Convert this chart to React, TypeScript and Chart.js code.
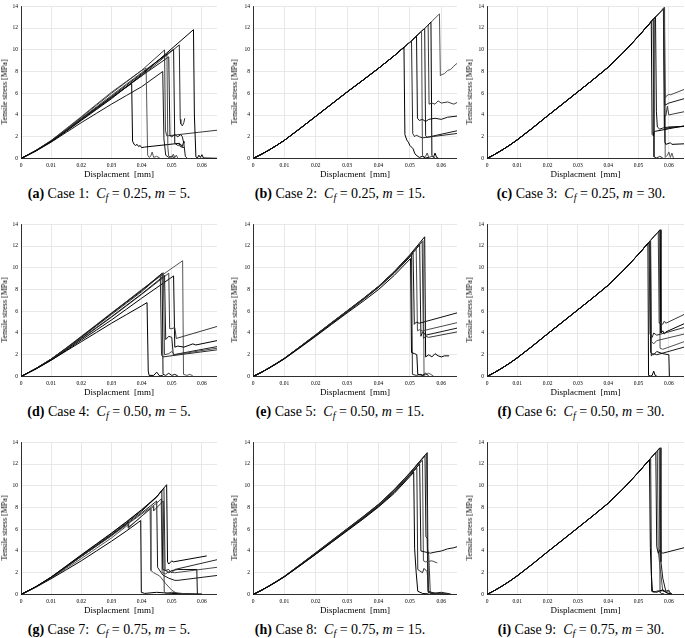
import React, { useEffect, useRef } from "react";
import { Chart, registerables } from "chart.js";

Chart.register(...registerables);

type Pt = [number, number];

const X_TICKS = [0, 0.01, 0.02, 0.03, 0.04, 0.05, 0.06];
const Y_TICKS = [0, 2, 4, 6, 8, 10, 12, 14];
const X_MAX = 0.065;
const Y_MAX = 14;

const PANEL_LETTERS = ["a", "b", "c", "d", "e", "f", "g", "h", "i"];
const CASE_NUMBERS = ["1", "2", "3", "4", "5", "6", "7", "8", "9"];
const CASE_CF = ["0.25", "0.25", "0.25", "0.50", "0.50", "0.50", "0.75", "0.75", "0.75"];
const CASE_M = ["5", "15", "30", "5", "15", "30", "5", "15", "30"];
const X_TITLE = "Displacment  [mm]";
const Y_TITLE = "Tensile stress [MPa]";

const CASE1: Pt[][] = [
  [[0,0],[0.005,0.7],[0.01,1.55],[0.015,2.5],[0.02,3.5],[0.025,4.5],[0.03,5.5],[0.035,6.6],[0.04,7.7],[0.045,8.9],[0.0572,11.85],[0.0575,4.0],[0.058,0.15],[0.0585,0.05],[0.059,0.3],[0.0595,0.1],[0.06,0.35],[0.0605,0.05],[0.065,0.02]],
  [[0,0],[0.005,0.72],[0.01,1.6],[0.015,2.55],[0.02,3.55],[0.025,4.57],[0.03,5.6],[0.035,6.6],[0.04,7.6],[0.045,8.75],[0.0525,10.45],[0.0528,3.6],[0.053,3.2],[0.0535,3.0],[0.054,3.3],[0.0543,3.7]],
  [[0,0],[0.005,0.72],[0.01,1.6],[0.015,2.58],[0.02,3.6],[0.025,4.65],[0.03,5.7],[0.035,6.75],[0.04,7.8],[0.045,8.9],[0.0506,10.05],[0.051,1.4],[0.052,1.2],[0.053,1.3],[0.0535,1.1],[0.054,1.6],[0.0542,1.4]],
  [[0,0],[0.005,0.73],[0.01,1.6],[0.015,2.63],[0.02,3.7],[0.025,4.75],[0.03,5.8],[0.035,6.85],[0.04,7.9],[0.0484,9.6],[0.0487,1.0],[0.049,0.2],[0.05,0.1],[0.0505,0.4],[0.051,0.1],[0.0515,0.3],[0.052,0.05]],
  [[0,0],[0.005,0.72],[0.01,1.6],[0.015,2.58],[0.02,3.6],[0.025,4.6],[0.03,5.6],[0.035,6.6],[0.04,7.6],[0.049,9.35],[0.0494,2.1],[0.05,2.0],[0.051,2.2],[0.052,2.0],[0.053,2.2],[0.0535,2.0],[0.054,1.4],[0.0545,0.2],[0.055,0.05]],
  [[0,0],[0.005,0.75],[0.01,1.65],[0.015,2.7],[0.02,3.8],[0.025,4.9],[0.03,6.0],[0.035,7.05],[0.04,8.1],[0.0476,9.98],[0.0479,2.6],[0.0483,2.1],[0.0488,2.09],[0.065,2.6]],
  [[0,0],[0.005,0.74],[0.01,1.6],[0.015,2.65],[0.02,3.7],[0.025,4.65],[0.03,5.6],[0.0367,6.9],[0.037,1.6],[0.0375,1.3],[0.038,1.2],[0.0385,1.3],[0.039,1.1],[0.0395,1.2],[0.04,1.0],[0.041,1.05],[0.0526,1.4],[0.0528,1.1],[0.054,1.0]],
  [[0,0],[0.005,0.76],[0.01,1.65],[0.015,2.75],[0.02,3.85],[0.025,4.98],[0.03,6.1],[0.035,7.1],[0.04,8.1],[0.0415,8.3],[0.042,0.3],[0.0425,0.1],[0.043,0.2],[0.0435,0.6],[0.044,0.1],[0.045,0.2],[0.046,0.05]],
  [[0,0],[0.005,0.7],[0.01,1.5],[0.015,2.4],[0.02,3.3],[0.025,4.15],[0.03,5.0],[0.035,5.8],[0.04,6.6],[0.047,8.0],[0.0474,1.8],[0.048,0.3],[0.049,0.1],[0.05,0.2],[0.051,0.05]],
];

const CASE2: Pt[][] = [
  [[0,0],[0.0025,0.36],[0.005,0.76],[0.0075,1.2],[0.01,1.67],[0.015,2.76],[0.02,3.88],[0.025,5.0],[0.03,6.12],[0.035,7.2],[0.04,8.3],[0.045,9.45],[0.0481,10.25],[0.0484,2.2],[0.049,1.7],[0.0495,1.5],[0.05,1.2],[0.051,0.9],[0.0515,0.5],[0.052,0.3],[0.053,0.1],[0.054,0.2],[0.055,0.05],[0.056,0.1]],
  [[0,0],[0.0025,0.36],[0.005,0.76],[0.0075,1.2],[0.01,1.67],[0.015,2.76],[0.02,3.88],[0.025,5.0],[0.03,6.12],[0.035,7.2],[0.04,8.3],[0.045,9.45],[0.05,10.7],[0.0505,10.83],[0.0509,2.3],[0.0515,2.0],[0.052,2.15],[0.053,2.0],[0.054,1.9],[0.065,2.3]],
  [[0,0],[0.0025,0.36],[0.005,0.76],[0.0075,1.2],[0.01,1.67],[0.015,2.76],[0.02,3.88],[0.025,5.0],[0.03,6.12],[0.035,7.2],[0.04,8.3],[0.045,9.45],[0.05,10.7],[0.0521,11.27],[0.0524,3.7],[0.053,3.5],[0.054,3.6],[0.055,3.4],[0.056,3.6],[0.058,3.7],[0.06,3.6],[0.062,3.8],[0.065,3.9]],
  [[0,0],[0.0025,0.36],[0.005,0.76],[0.0075,1.2],[0.01,1.67],[0.015,2.76],[0.02,3.88],[0.025,5.0],[0.03,6.12],[0.035,7.2],[0.04,8.3],[0.045,9.45],[0.05,10.7],[0.0537,11.7],[0.054,0.3],[0.0545,0.1],[0.055,0.2],[0.0555,0.5],[0.056,0.1],[0.057,0.2],[0.058,0.05]],
  [[0,0],[0.0025,0.36],[0.005,0.76],[0.0075,1.2],[0.01,1.67],[0.015,2.76],[0.02,3.88],[0.025,5.0],[0.03,6.12],[0.035,7.2],[0.04,8.3],[0.045,9.45],[0.05,10.7],[0.0547,11.97],[0.055,2.1],[0.0555,1.95],[0.065,2.55]],
  [[0,0],[0.0025,0.36],[0.005,0.76],[0.0075,1.2],[0.01,1.67],[0.015,2.76],[0.02,3.88],[0.025,5.0],[0.03,6.12],[0.035,7.2],[0.04,8.3],[0.045,9.45],[0.05,10.7],[0.055,12.05],[0.0558,12.28],[0.0561,5.0],[0.057,5.1],[0.058,5.0],[0.059,5.3],[0.06,5.1],[0.062,5.2],[0.064,5.0],[0.065,5.15]],
  [[0,0],[0.0025,0.36],[0.005,0.76],[0.0075,1.2],[0.01,1.67],[0.015,2.76],[0.02,3.88],[0.025,5.0],[0.03,6.12],[0.035,7.2],[0.04,8.3],[0.045,9.45],[0.05,10.7],[0.055,12.05],[0.0567,12.55],[0.057,0.3],[0.0575,0.1],[0.058,0.5],[0.0585,0.1],[0.059,0.05]],
  [[0,0],[0.0025,0.36],[0.005,0.76],[0.0075,1.2],[0.01,1.67],[0.015,2.76],[0.02,3.88],[0.025,5.0],[0.03,6.12],[0.035,7.2],[0.04,8.3],[0.045,9.45],[0.05,10.7],[0.055,12.05],[0.0594,13.3],[0.0597,7.6],[0.06,7.7],[0.061,7.8],[0.062,8.1],[0.063,8.2],[0.064,8.5],[0.065,8.75]],
];

const CASE3: Pt[][] = [
  [[0,0],[0.0025,0.37],[0.005,0.78],[0.0075,1.23],[0.01,1.72],[0.015,2.8],[0.02,3.93],[0.025,5.03],[0.03,6.14],[0.035,7.25],[0.04,8.4],[0.045,9.75],[0.05,11.25],[0.0542,12.6],[0.0545,2.2],[0.0548,2.1],[0.055,2.4],[0.0555,2.5],[0.065,3.0]],
  [[0,0],[0.0025,0.37],[0.005,0.78],[0.0075,1.23],[0.01,1.72],[0.015,2.8],[0.02,3.93],[0.025,5.03],[0.03,6.14],[0.035,7.25],[0.04,8.4],[0.045,9.75],[0.05,11.25],[0.0548,12.8],[0.0551,0.15],[0.056,0.05],[0.057,0.2],[0.058,0.05]],
  [[0,0],[0.0025,0.37],[0.005,0.78],[0.0075,1.23],[0.01,1.72],[0.015,2.8],[0.02,3.93],[0.025,5.03],[0.03,6.14],[0.035,7.25],[0.04,8.4],[0.045,9.75],[0.05,11.25],[0.055,12.85],[0.0556,13.0],[0.0559,4.3],[0.0562,2.9],[0.057,2.7],[0.058,2.8],[0.06,2.9],[0.065,2.95]],
  [[0,0],[0.0025,0.37],[0.005,0.78],[0.0075,1.23],[0.01,1.72],[0.015,2.8],[0.02,3.93],[0.025,5.03],[0.03,6.14],[0.035,7.25],[0.04,8.4],[0.045,9.75],[0.05,11.25],[0.055,12.85],[0.0585,13.9],[0.0588,5.6],[0.059,5.7],[0.06,5.9],[0.0605,5.85],[0.065,6.35]],
  [[0,0],[0.0025,0.37],[0.005,0.78],[0.0075,1.23],[0.01,1.72],[0.015,2.8],[0.02,3.93],[0.025,5.03],[0.03,6.14],[0.035,7.25],[0.04,8.4],[0.045,9.75],[0.05,11.25],[0.055,12.85],[0.0584,13.85],[0.0587,4.9],[0.06,5.1],[0.065,5.5]],
  [[0,0],[0.0025,0.37],[0.005,0.78],[0.0075,1.23],[0.01,1.72],[0.015,2.8],[0.02,3.93],[0.025,5.03],[0.03,6.14],[0.035,7.25],[0.04,8.4],[0.045,9.75],[0.05,11.25],[0.055,12.85],[0.0583,13.8],[0.0586,4.0],[0.059,3.9],[0.0595,4.8],[0.06,4.0],[0.0615,4.1],[0.065,4.3]],
  [[0,0],[0.0025,0.37],[0.005,0.78],[0.0075,1.23],[0.01,1.72],[0.015,2.8],[0.02,3.93],[0.025,5.03],[0.03,6.14],[0.035,7.25],[0.04,8.4],[0.045,9.75],[0.05,11.25],[0.055,12.85],[0.0584,13.85],[0.0587,1.5],[0.059,1.3],[0.0605,1.45],[0.061,1.3],[0.065,1.35]],
  [[0,0],[0.0025,0.37],[0.005,0.78],[0.0075,1.23],[0.01,1.72],[0.015,2.8],[0.02,3.93],[0.025,5.03],[0.03,6.14],[0.035,7.25],[0.04,8.4],[0.045,9.75],[0.05,11.25],[0.055,12.85],[0.0586,13.92],[0.0588,0.1],[0.0595,0.3],[0.06,0.6],[0.0605,0.1],[0.061,0.5],[0.0615,0.05]],
  [[0,0],[0.0025,0.37],[0.005,0.78],[0.0075,1.23],[0.01,1.72],[0.015,2.8],[0.02,3.93],[0.025,5.03],[0.03,6.14],[0.035,7.25],[0.04,8.4],[0.045,9.75],[0.05,11.25],[0.055,12.85],[0.0582,13.75],[0.0585,2.9],[0.059,2.7],[0.06,2.85],[0.065,2.95]],
];

const CASE4: Pt[][] = [
  [[0,0],[0.005,0.7],[0.01,1.5],[0.015,2.35],[0.02,3.2],[0.025,4.05],[0.03,4.9],[0.035,5.7],[0.04,6.5],[0.0418,6.8],[0.0422,0.5],[0.0425,0.1],[0.044,0.1],[0.045,0.4],[0.046,0.05],[0.047,0.1]],
  [[0,0],[0.005,0.74],[0.01,1.6],[0.015,2.58],[0.02,3.6],[0.025,4.65],[0.03,5.7],[0.035,6.75],[0.04,7.8],[0.0462,9.3],[0.0466,2.0],[0.047,1.8],[0.065,2.45]],
  [[0,0],[0.005,0.74],[0.01,1.6],[0.015,2.6],[0.02,3.65],[0.025,4.72],[0.03,5.8],[0.035,6.85],[0.04,7.9],[0.0468,9.5],[0.0471,0.2],[0.048,0.1],[0.049,0.3],[0.05,0.1],[0.051,0.2],[0.052,0.05]],
  [[0,0],[0.005,0.75],[0.01,1.6],[0.015,2.63],[0.02,3.7],[0.025,4.77],[0.03,5.85],[0.035,6.9],[0.04,7.95],[0.0472,9.55],[0.0476,2.0],[0.049,2.1],[0.05,2.3],[0.051,2.0],[0.065,2.6]],
  [[0,0],[0.005,0.72],[0.01,1.55],[0.015,2.5],[0.02,3.5],[0.025,4.5],[0.03,5.5],[0.035,6.55],[0.04,7.6],[0.0476,9.3],[0.048,3.4],[0.049,3.7],[0.05,3.6],[0.0505,2.0],[0.065,2.75]],
  [[0,0],[0.005,0.72],[0.01,1.55],[0.015,2.48],[0.02,3.45],[0.025,4.45],[0.03,5.45],[0.035,6.5],[0.04,7.55],[0.049,9.5],[0.0493,4.4],[0.05,4.4],[0.051,4.5],[0.0515,3.5],[0.065,4.6]],
  [[0,0],[0.005,0.7],[0.01,1.5],[0.015,2.4],[0.02,3.35],[0.025,4.27],[0.03,5.2],[0.035,6.2],[0.04,7.2],[0.0506,9.25],[0.051,2.7],[0.052,2.8],[0.054,2.7],[0.056,2.9],[0.057,3.0],[0.058,2.9],[0.065,3.3]],
  [[0,0],[0.005,0.74],[0.01,1.6],[0.015,2.58],[0.02,3.6],[0.025,4.7],[0.03,5.8],[0.035,6.9],[0.04,8.0],[0.0536,10.65],[0.0539,0.2],[0.055,0.1],[0.056,0.2],[0.057,0.05]],
];

const CASE5: Pt[][] = [
  [[0,0],[0.0025,0.35],[0.005,0.75],[0.0075,1.17],[0.01,1.62],[0.015,2.65],[0.02,3.7],[0.025,4.78],[0.03,5.85],[0.035,6.9],[0.04,8.0],[0.045,9.3],[0.0502,10.85],[0.0505,2.2],[0.0515,2.1],[0.0522,2.0],[0.0525,0.2],[0.054,0.1],[0.055,0.3],[0.056,0.05]],
  [[0,0],[0.0025,0.36],[0.005,0.76],[0.0075,1.19],[0.01,1.65],[0.015,2.7],[0.02,3.78],[0.025,4.87],[0.03,5.95],[0.035,7.05],[0.04,8.2],[0.045,9.55],[0.0505,11.3],[0.0508,0.2],[0.052,0.1],[0.0535,0.2],[0.0545,0.05]],
  [[0,0],[0.0025,0.36],[0.005,0.76],[0.0075,1.19],[0.01,1.65],[0.015,2.7],[0.02,3.78],[0.025,4.87],[0.03,5.95],[0.035,7.05],[0.04,8.2],[0.045,9.5],[0.05,11.0],[0.051,11.35],[0.0514,4.8],[0.052,5.0],[0.053,4.9],[0.065,5.85]],
  [[0,0],[0.0025,0.36],[0.005,0.77],[0.0075,1.2],[0.01,1.66],[0.015,2.72],[0.02,3.8],[0.025,4.9],[0.03,6.0],[0.035,7.1],[0.04,8.25],[0.045,9.55],[0.05,11.05],[0.052,11.7],[0.0524,4.2],[0.053,4.3],[0.054,4.2],[0.065,4.95]],
  [[0,0],[0.0025,0.36],[0.005,0.77],[0.0075,1.2],[0.01,1.66],[0.015,2.72],[0.02,3.8],[0.025,4.9],[0.03,6.0],[0.035,7.1],[0.04,8.25],[0.045,9.6],[0.05,11.1],[0.0531,12.1],[0.0535,3.7],[0.054,4.1],[0.0545,4.0],[0.055,3.8],[0.065,4.45]],
  [[0,0],[0.0025,0.36],[0.005,0.77],[0.0075,1.21],[0.01,1.67],[0.015,2.74],[0.02,3.82],[0.025,4.93],[0.03,6.02],[0.035,7.12],[0.04,8.27],[0.045,9.62],[0.05,11.15],[0.0539,12.4],[0.0543,3.5],[0.055,3.7],[0.056,3.6],[0.065,4.1]],
  [[0,0],[0.0025,0.36],[0.005,0.77],[0.0075,1.21],[0.01,1.68],[0.015,2.75],[0.02,3.85],[0.025,4.95],[0.03,6.05],[0.035,7.15],[0.04,8.3],[0.045,9.65],[0.05,11.2],[0.0547,12.85],[0.055,1.8],[0.056,2.0],[0.057,1.8],[0.058,2.1],[0.059,1.9],[0.06,1.8],[0.061,1.9],[0.0625,1.9]],
  [[0,0],[0.0025,0.36],[0.005,0.77],[0.0075,1.21],[0.01,1.67],[0.015,2.74],[0.02,3.82],[0.025,4.93],[0.03,6.02],[0.035,7.12],[0.04,8.27],[0.045,9.62],[0.05,11.15],[0.0542,12.5],[0.0545,0.1],[0.056,0.3],[0.0575,0.05]],
];

const CASE6: Pt[][] = [
  [[0,0],[0.0025,0.37],[0.005,0.78],[0.0075,1.23],[0.01,1.72],[0.015,2.8],[0.02,3.93],[0.025,5.03],[0.03,6.14],[0.035,7.25],[0.04,8.4],[0.045,9.75],[0.05,11.25],[0.0531,12.24],[0.0533,0.1],[0.054,0.05],[0.0545,0.1],[0.055,0.5],[0.0555,0.1],[0.056,0.05]],
  [[0,0],[0.0025,0.37],[0.005,0.78],[0.0075,1.23],[0.01,1.72],[0.015,2.8],[0.02,3.93],[0.025,5.03],[0.03,6.14],[0.035,7.25],[0.04,8.4],[0.045,9.75],[0.05,11.25],[0.0535,12.37],[0.0538,3.9],[0.0545,3.6],[0.055,4.0],[0.056,3.8],[0.065,4.5]],
  [[0,0],[0.0025,0.37],[0.005,0.78],[0.0075,1.23],[0.01,1.72],[0.015,2.8],[0.02,3.93],[0.025,5.03],[0.03,6.14],[0.035,7.25],[0.04,8.4],[0.045,9.75],[0.05,11.25],[0.0537,12.43],[0.054,2.2],[0.055,2.0],[0.056,2.3],[0.058,2.1],[0.06,2.0],[0.0602,0.0]],
  [[0,0],[0.0025,0.37],[0.005,0.78],[0.0075,1.23],[0.01,1.72],[0.015,2.8],[0.02,3.93],[0.025,5.03],[0.03,6.14],[0.035,7.25],[0.04,8.4],[0.045,9.75],[0.05,11.25],[0.054,12.53],[0.0543,3.2],[0.055,3.0],[0.056,3.3],[0.065,3.9]],
  [[0,0],[0.0025,0.37],[0.005,0.78],[0.0075,1.23],[0.01,1.72],[0.015,2.8],[0.02,3.93],[0.025,5.03],[0.03,6.14],[0.035,7.25],[0.04,8.4],[0.045,9.75],[0.05,11.25],[0.0539,12.5],[0.0542,1.9],[0.055,2.1],[0.056,2.0],[0.065,2.7]],
  [[0,0],[0.0025,0.37],[0.005,0.78],[0.0075,1.23],[0.01,1.72],[0.015,2.8],[0.02,3.93],[0.025,5.03],[0.03,6.14],[0.035,7.25],[0.04,8.4],[0.045,9.75],[0.05,11.25],[0.055,12.85],[0.0565,13.3],[0.0568,4.9],[0.057,5.0],[0.058,4.8],[0.0585,5.1],[0.059,4.9],[0.065,5.7]],
  [[0,0],[0.0025,0.37],[0.005,0.78],[0.0075,1.23],[0.01,1.72],[0.015,2.8],[0.02,3.93],[0.025,5.03],[0.03,6.14],[0.035,7.25],[0.04,8.4],[0.045,9.75],[0.05,11.25],[0.055,12.85],[0.0571,13.5],[0.0574,4.0],[0.058,4.2],[0.0585,3.9],[0.059,4.1],[0.065,4.85]],
  [[0,0],[0.0025,0.37],[0.005,0.78],[0.0075,1.23],[0.01,1.72],[0.015,2.8],[0.02,3.93],[0.025,5.03],[0.03,6.14],[0.035,7.25],[0.04,8.4],[0.045,9.75],[0.05,11.25],[0.055,12.85],[0.0568,13.4],[0.0571,2.6],[0.058,2.5],[0.065,3.2]],
];

const CASE7: Pt[][] = [
  [[0,0],[0.005,0.73],[0.01,1.6],[0.015,2.62],[0.02,3.65],[0.025,4.65],[0.03,5.65],[0.035,6.7],[0.04,7.8],[0.045,9.0],[0.0483,10.1],[0.0486,3.0],[0.049,2.8],[0.05,3.1],[0.0505,3.0],[0.0616,3.55]],
  [[0,0],[0.005,0.73],[0.01,1.6],[0.015,2.6],[0.02,3.6],[0.025,4.6],[0.03,5.6],[0.035,6.65],[0.04,7.75],[0.045,8.95],[0.0474,9.8],[0.0478,2.2],[0.049,2.3],[0.05,2.0],[0.051,2.3],[0.065,3.2]],
  [[0,0],[0.005,0.72],[0.01,1.58],[0.015,2.56],[0.02,3.55],[0.025,4.52],[0.03,5.5],[0.035,6.55],[0.04,7.65],[0.045,9.0],[0.0467,9.55],[0.047,2.3],[0.048,2.2],[0.049,2.0],[0.05,2.2],[0.052,2.3],[0.0583,2.3],[0.0585,0.0]],
  [[0,0],[0.005,0.71],[0.01,1.55],[0.015,2.52],[0.02,3.5],[0.025,4.45],[0.03,5.4],[0.035,6.4],[0.04,7.4],[0.045,8.4],[0.0465,8.8],[0.0468,2.0],[0.048,1.9],[0.049,2.1],[0.051,2.0],[0.065,2.5]],
  [[0,0],[0.005,0.71],[0.01,1.55],[0.015,2.52],[0.02,3.5],[0.025,4.47],[0.03,5.45],[0.035,6.45],[0.04,7.5],[0.045,8.6],[0.0453,2.5],[0.047,1.8],[0.049,1.5],[0.051,1.3],[0.052,1.3],[0.065,1.75]],
  [[0,0],[0.005,0.71],[0.01,1.55],[0.015,2.52],[0.02,3.5],[0.025,4.45],[0.03,5.4],[0.0356,6.66],[0.0357,6.2],[0.04,7.2],[0.0439,8.1],[0.044,7.7],[0.0472,8.6],[0.0475,0.3],[0.048,0.1],[0.05,0.2],[0.055,0.05]],
  [[0,0],[0.005,0.68],[0.01,1.45],[0.015,2.27],[0.02,3.1],[0.025,4.0],[0.03,4.9],[0.035,5.85],[0.0397,6.8],[0.0399,0.2],[0.041,0.1],[0.045,0.2],[0.05,0.1],[0.06,0.05]],
  [[0,0],[0.005,0.7],[0.01,1.5],[0.015,2.4],[0.02,3.3],[0.025,4.25],[0.03,5.2],[0.0355,6.4],[0.0356,6.1],[0.0428,7.9],[0.0431,2.2],[0.044,2.0],[0.046,1.7],[0.048,1.0],[0.05,0.4],[0.052,0.05]],
];

const CASE8: Pt[][] = [
  [[0,0],[0.0025,0.35],[0.005,0.75],[0.0075,1.17],[0.01,1.62],[0.015,2.65],[0.02,3.7],[0.025,4.78],[0.03,5.85],[0.035,6.92],[0.04,8.05],[0.045,9.3],[0.05,10.85],[0.0512,11.25],[0.0515,4.2],[0.052,2.0],[0.0525,0.3],[0.054,0.1],[0.056,0.05]],
  [[0,0],[0.0025,0.35],[0.005,0.75],[0.0075,1.18],[0.01,1.63],[0.015,2.67],[0.02,3.72],[0.025,4.81],[0.03,5.9],[0.035,6.98],[0.04,8.1],[0.045,9.4],[0.05,10.95],[0.0522,11.65],[0.0525,2.3],[0.053,2.2],[0.054,2.0],[0.0545,2.4],[0.0555,2.1],[0.056,0.2],[0.058,0.1]],
  [[0,0],[0.0025,0.36],[0.005,0.76],[0.0075,1.19],[0.01,1.64],[0.015,2.69],[0.02,3.75],[0.025,4.84],[0.03,5.93],[0.035,7.02],[0.04,8.15],[0.045,9.45],[0.05,11.0],[0.0531,12.0],[0.0535,4.0],[0.055,3.9],[0.0565,3.8],[0.058,3.9],[0.06,4.0],[0.062,4.2],[0.064,4.3],[0.065,4.4]],
  [[0,0],[0.0025,0.36],[0.005,0.76],[0.0075,1.2],[0.01,1.65],[0.015,2.71],[0.02,3.77],[0.025,4.87],[0.03,5.96],[0.035,7.06],[0.04,8.2],[0.045,9.5],[0.05,11.05],[0.054,12.35],[0.0543,3.1],[0.055,3.0],[0.057,3.1],[0.0587,2.9]],
  [[0,0],[0.0025,0.36],[0.005,0.77],[0.0075,1.21],[0.01,1.66],[0.015,2.73],[0.02,3.8],[0.025,4.9],[0.03,6.0],[0.035,7.1],[0.04,8.25],[0.045,9.6],[0.05,11.15],[0.0548,12.75],[0.0551,5.3],[0.0555,5.2],[0.0558,0.2],[0.057,0.1],[0.06,0.2],[0.063,0.05]],
  [[0,0],[0.0025,0.36],[0.005,0.77],[0.0075,1.21],[0.01,1.67],[0.015,2.74],[0.02,3.82],[0.025,4.93],[0.03,6.03],[0.035,7.13],[0.04,8.28],[0.045,9.63],[0.05,11.18],[0.0553,12.95],[0.0556,4.2],[0.056,3.6],[0.0565,0.1],[0.06,0.1]],
  [[0,0],[0.0025,0.36],[0.005,0.77],[0.0075,1.21],[0.01,1.68],[0.015,2.75],[0.02,3.85],[0.025,4.95],[0.03,6.05],[0.035,7.15],[0.04,8.3],[0.045,9.65],[0.05,11.2],[0.0555,13.05],[0.0558,0.3],[0.058,0.1],[0.062,0.05]],
];

const CASE9: Pt[][] = [
  [[0,0],[0.0025,0.37],[0.005,0.78],[0.0075,1.23],[0.01,1.72],[0.015,2.8],[0.02,3.93],[0.025,5.03],[0.03,6.14],[0.035,7.25],[0.04,8.4],[0.045,9.75],[0.05,11.25],[0.0536,12.4],[0.0539,4.3],[0.0542,2.0],[0.0546,0.3],[0.056,0.2],[0.057,0.35],[0.058,0.4],[0.059,0.2],[0.06,0.1],[0.061,0.05]],
  [[0,0],[0.0025,0.37],[0.005,0.78],[0.0075,1.23],[0.01,1.72],[0.015,2.8],[0.02,3.93],[0.025,5.03],[0.03,6.14],[0.035,7.25],[0.04,8.4],[0.045,9.75],[0.05,11.25],[0.054,12.53],[0.0543,0.3],[0.055,0.2],[0.0565,0.35],[0.0575,0.1],[0.0585,0.05]],
  [[0,0],[0.0025,0.37],[0.005,0.78],[0.0075,1.23],[0.01,1.72],[0.015,2.8],[0.02,3.93],[0.025,5.03],[0.03,6.14],[0.035,7.25],[0.04,8.4],[0.045,9.75],[0.05,11.25],[0.055,12.85],[0.0557,13.05],[0.056,4.4],[0.0565,3.8],[0.057,4.1],[0.0575,3.9],[0.058,3.8],[0.065,4.3]],
  [[0,0],[0.0025,0.37],[0.005,0.78],[0.0075,1.23],[0.01,1.72],[0.015,2.8],[0.02,3.93],[0.025,5.03],[0.03,6.14],[0.035,7.25],[0.04,8.4],[0.045,9.75],[0.05,11.25],[0.055,12.85],[0.0562,13.2],[0.0565,4.0],[0.058,0.3],[0.06,0.3],[0.061,0.05]],
  [[0,0],[0.0025,0.37],[0.005,0.78],[0.0075,1.23],[0.01,1.72],[0.015,2.8],[0.02,3.93],[0.025,5.03],[0.03,6.14],[0.035,7.25],[0.04,8.4],[0.045,9.75],[0.05,11.25],[0.055,12.85],[0.0571,13.5],[0.0574,3.0],[0.058,1.5],[0.059,0.3],[0.06,0.4],[0.0605,0.1]],
  [[0,0],[0.0025,0.37],[0.005,0.78],[0.0075,1.23],[0.01,1.72],[0.015,2.8],[0.02,3.93],[0.025,5.03],[0.03,6.14],[0.035,7.25],[0.04,8.4],[0.045,9.75],[0.05,11.25],[0.055,12.85],[0.0568,13.42],[0.0571,0.2],[0.058,0.45],[0.0595,0.1],[0.06,0.05]],
];

const ALL_CASES: Pt[][][] = [CASE1, CASE2, CASE3, CASE4, CASE5, CASE6, CASE7, CASE8, CASE9];

// ---- layout / style (not data) ----
const SERIF = '"Liberation Serif", "DejaVu Serif", serif';
const LINE_COLORS = ["#000000", "#2a2a2a", "#111111", "#4a4a4a", "#1a1a1a", "#3a3a3a", "#000000", "#555555", "#151515"];
const COLS = [
  { canvasLeft: 0, axisW: 21, plotW: 196, yTitleX: 4.5, capX: 109 },
  { canvasLeft: 233, axisW: 20, plotW: 204, yTitleX: 235, capX: 340 },
  { canvasLeft: 466, axisW: 21, plotW: 197, yTitleX: 469.5, capX: 581 },
];
const ROW_TOPS = [0, 218, 436];
const CANVAS_H = 180;
const PAD_TOP = 4;
const X_AXIS_H = 21.5;

function Panel({ index }: { index: number }) {
  const ref = useRef<HTMLCanvasElement | null>(null);
  const col = COLS[index % 3];
  const top = ROW_TOPS[Math.floor(index / 3)];
  const width = col.axisW + col.plotW;

  useEffect(() => {
    if (!ref.current) return;
    const curves = ALL_CASES[index];
    const chart = new Chart(ref.current, {
      type: "line",
      data: {
        datasets: curves.map((c, i) => ({
          data: c.map(([x, y]) => ({ x, y })),
          borderColor: LINE_COLORS[i % LINE_COLORS.length],
          borderWidth: 1,
          pointRadius: 0,
          tension: 0,
          fill: false,
        })),
      },
      options: {
        animation: false,
        responsive: false,
        devicePixelRatio: 1,
        layout: { padding: { top: PAD_TOP, left: 0, right: 0, bottom: 0 } },
        plugins: { legend: { display: false }, tooltip: { enabled: false } },
        scales: {
          x: {
            type: "linear",
            min: 0,
            max: X_MAX,
            afterBuildTicks: (s: any) => {
              s.ticks = X_TICKS.map((v) => ({ value: v }));
            },
            afterFit: (s: any) => {
              s.height = X_AXIS_H;
            },
            ticks: {
              autoSkip: false,
              maxRotation: 0,
              padding: 4,
              color: "#000",
              font: { family: SERIF, size: 5.5 },
              callback: (v: any) => (Number(v) === 0 ? "0" : Number(v).toFixed(2)),
            },
            grid: { color: "#e2e2e2", lineWidth: 0.8, drawTicks: false },
            border: { color: "#000", width: 0.8 },
            title: {
              display: true,
              text: X_TITLE,
              color: "#000",
              padding: 0,
              font: { family: SERIF, size: 9 },
            },
          },
          y: {
            type: "linear",
            min: 0,
            max: Y_MAX,
            afterBuildTicks: (s: any) => {
              s.ticks = Y_TICKS.map((v) => ({ value: v }));
            },
            afterFit: (s: any) => {
              s.width = col.axisW;
            },
            ticks: {
              autoSkip: false,
              padding: 3,
              color: "#000",
              font: { family: SERIF, size: 5.5 },
              callback: (v: any) => String(v),
            },
            grid: { color: "#e2e2e2", lineWidth: 0.8, drawTicks: false },
            border: { color: "#000", width: 0.8 },
          },
        },
      },
    } as any);
    return () => chart.destroy();
  }, [index]);

  return (
    <>
      <canvas
        ref={ref}
        width={width}
        height={CANVAS_H}
        style={{ position: "absolute", left: col.canvasLeft, top, width, height: CANVAS_H }}
      />
      <div
        style={{
          position: "absolute",
          left: col.yTitleX,
          top: top + 92,
          transform: "translate(-50%, -50%) rotate(-90deg)",
          whiteSpace: "nowrap",
          fontFamily: SERIF,
          fontSize: 8,
          lineHeight: 1,
          color: "#000",
        }}
      >
        {Y_TITLE}
      </div>
      <div
        style={{
          position: "absolute",
          left: col.capX,
          top: top + 194,
          transform: "translate(-50%, -50%)",
          whiteSpace: "nowrap",
          fontFamily: SERIF,
          fontSize: 14,
          lineHeight: 1,
          color: "#000",
        }}
      >
        <b>({PANEL_LETTERS[index]})</b> Case {CASE_NUMBERS[index]}:&nbsp; <i>C</i>
        <sub style={{ fontSize: "0.7em", verticalAlign: "-0.3em", lineHeight: 0 }}>
          <i>f</i>
        </sub>{" "}
        = {CASE_CF[index]}, <i>m</i> = {CASE_M[index]}.
      </div>
    </>
  );
}

export default function App() {
  return (
    <div
      style={{
        position: "fixed",
        left: 0,
        top: 0,
        width: 685,
        height: 638,
        overflow: "hidden",
        background: "#fff",
      }}
    >
      {ALL_CASES.map((_, i) => (
        <Panel key={i} index={i} />
      ))}
    </div>
  );
}
